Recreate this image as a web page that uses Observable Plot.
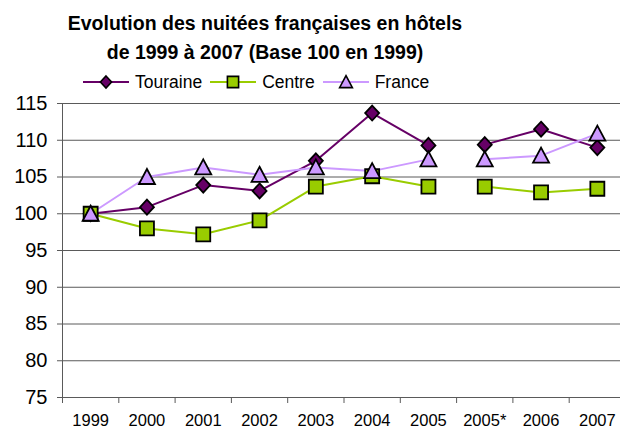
<!DOCTYPE html>
<html><head><meta charset="utf-8">
<script src="https://cdn.jsdelivr.net/npm/d3@7"></script>
<script src="https://cdn.jsdelivr.net/npm/@observablehq/plot@0.6"></script>
<style>
body{margin:0;background:#fff;font-family:"Liberation Sans",Arial,sans-serif;color:#000;}
#head{position:relative;width:620px;height:90px;}
#title{position:absolute;left:0;width:530px;top:9px;text-align:center;font-weight:bold;font-size:19.5px;line-height:29px;}
#legend{position:absolute;top:72px;left:83px;display:flex;align-items:center;font-size:17.5px;line-height:20px;}
#legend .item{display:flex;align-items:center;margin-right:8px;}
#legend svg{margin-right:6px;}
</style></head><body>
<div id="head">
  <div id="title">Evolution des nuitées françaises en hôtels<br>de 1999 à 2007 (Base 100 en 1999)</div>
  <div id="legend"></div>
</div>
<div id="chart"></div>
<script>
const categories = ["1999","2000","2001","2002","2003","2004","2005","2005*","2006","2007"];
const touraine = [100, 100.9, 103.9, 103.1, 107.2, 113.7, 109.3, 109.4, 111.5, 109.0];
const centre   = [100, 98.0, 97.2, 99.1, 103.7, 105.1, 103.7, 103.7, 102.9, 103.4];
const france   = [100, 105.0, 106.3, 105.3, 106.3, 105.8, 107.4, 107.4, 107.9, 110.9];
const seriesNames = ["Touraine", "Centre", "France"];
const yTicks = [75, 80, 85, 90, 95, 100, 105, 110, 115];
const breakBefore = "2005*"; // lines are interrupted between 2005 and 2005*

const colors = ["#660066", "#99cc00", "#cc99ff"];
const symDiamond = {draw(c){ c.moveTo(0,-7.5); c.lineTo(7,0); c.lineTo(0,7.5); c.lineTo(-7,0); c.closePath(); }};
const symSquare  = {draw(c){ c.rect(-7,-7,14,14); }};
const symTriangle= {draw(c){ c.moveTo(0,-8); c.lineTo(8,7); c.lineTo(-8,7); c.closePath(); }};
const symbols = [symDiamond, symSquare, symTriangle];

const values = [touraine, centre, france];
const breakIndex = categories.indexOf(breakBefore);
const rows = [];
seriesNames.forEach((s, k) => values[k].forEach((v, i) => rows.push({
  series: s, i, value: v, seg: s + (i < breakIndex ? "-a" : "-b")
})));
const idx = categories.map((_, i) => i);
const bounds = categories.map((_, i) => i - 0.5).concat([categories.length - 0.5]);

const marks = [
  Plot.gridY(yTicks, {stroke: "#5a5a5a", strokeOpacity: 1, strokeWidth: 1}),
  Plot.frame({anchor: "left", stroke: "#5a5a5a"}),
  Plot.axisY(yTicks, {tickSize: 5, tickPadding: 10, fontSize: 20, stroke: "#5a5a5a", fill: "#000", label: null}),
  Plot.axisX(bounds, {tickSize: 6, tickFormat: () => "", stroke: "#5a5a5a", label: null}),
  Plot.axisX(idx, {tickSize: 0, tickPadding: 17, fontSize: 16.5, fill: "#000", label: null, tickFormat: i => categories[i]})
];
seriesNames.forEach((s, k) => {
  const d = rows.filter(r => r.series === s);
  marks.push(Plot.line(d, {x: "i", y: "value", z: "seg", stroke: colors[k], strokeWidth: 2}));
});
seriesNames.forEach((s, k) => {
  const d = rows.filter(r => r.series === s);
  marks.push(Plot.dot(d, {x: "i", y: "value", symbol: symbols[k], fill: colors[k], stroke: "#000", strokeWidth: 1.8, r: 6}));
});

const chart = Plot.plot({
  width: 620, height: 340,
  marginLeft: 62, marginRight: -5, marginTop: 13, marginBottom: 33,
  x: {domain: [-0.5, categories.length - 0.5], axis: null},
  y: {domain: [75, 115], axis: null},
  style: {fontFamily: '"Liberation Sans", Arial, sans-serif', background: "#fff", color: "#000", overflow: "hidden"},
  marks
});
document.getElementById("chart").appendChild(chart);

// legend
const legend = d3.select("#legend");
seriesNames.forEach((s, k) => {
  const item = legend.append("div").attr("class", "item");
  const svg = item.append("svg").attr("width", 46).attr("height", 20);
  svg.append("line").attr("x1", 0).attr("x2", 46).attr("y1", 10).attr("y2", 10)
    .attr("stroke", colors[k]).attr("stroke-width", 2);
  const ctx = d3.path();
  symbols[k].draw(ctx);
  svg.append("path").attr("d", ctx.toString()).attr("transform", "translate(23,10) scale(0.8)")
    .attr("fill", colors[k]).attr("stroke", "#000").attr("stroke-width", 2);
  item.append("span").text(s);
});
</script>
</body></html>
